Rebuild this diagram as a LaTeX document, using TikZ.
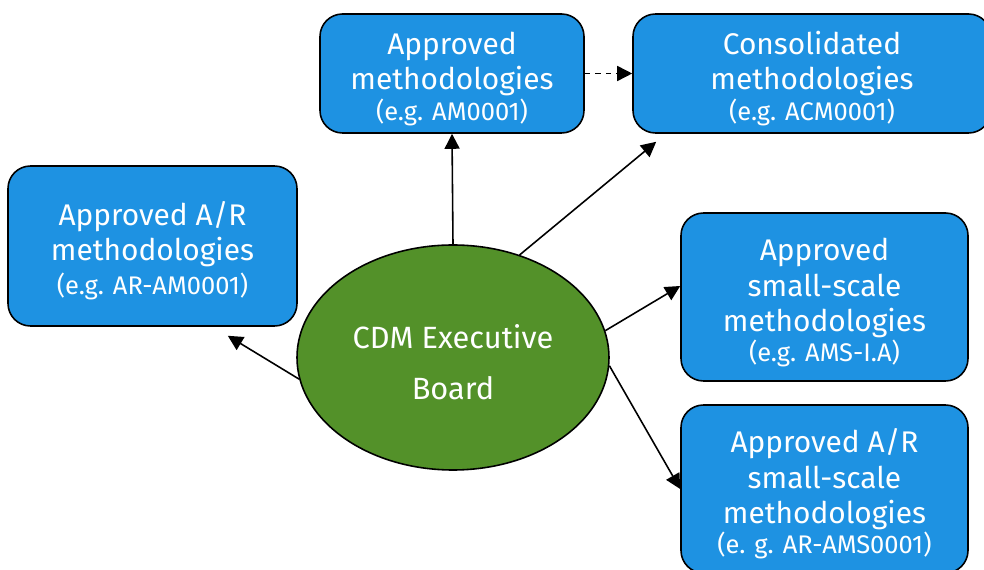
\documentclass[tikz,border=0pt]{standalone}
\usepackage{fontspec}
\setmainfont{Fira Sans}
\usepackage{tikz}
\usetikzlibrary{arrows.meta, calc, shapes.geometric}
\definecolor{boxblue}{RGB}{30, 146, 226}
\definecolor{boardgreen}{RGB}{83, 145, 41}

\newcommand{\bigtext}{\fontsize{17}{20}\selectfont}
\newcommand{\smalltext}{\fontsize{14.5}{18}\selectfont}
\newcommand{\topstrut}{\rule{0pt}{19pt}}

\tikzset{
  methbox/.style={draw=black, line width=0.9pt, fill=boxblue, rounded corners=0.45cm,
    text=white, align=center, inner sep=0pt, font=\bigtext},
  link/.style={line width=0.9pt, -{Triangle[length=0.3cm, width=0.3cm]}}
}

\begin{document}
\begin{tikzpicture}
  \useasboundingbox (0, 0) rectangle (19.68, 11.4);

  % the board in the middle
  \node[ellipse, draw=black, line width=0.9pt, fill=boardgreen, text=white,
        minimum width=6.24cm, minimum height=4.5cm, inner sep=0pt, align=center,
        font=\fontsize{17.5}{20}\selectfont] (board) at (9.06, 4.25)
    {\topstrut CDM Executive\\[8.5pt]Board};

  % methodology boxes
  \node[methbox, minimum width=5.28cm, minimum height=2.38cm] (apm) at (9.04, 9.93)
    {\topstrut Approved\\methodologies\\[-2pt]{\smalltext (e.g. AM0001)}};
  \node[methbox, minimum width=7.16cm, minimum height=2.38cm] (cons) at (16.24, 9.93)
    {\topstrut Consolidated\\methodologies\\[-2pt]{\smalltext (e.g. ACM0001)}};
  \node[methbox, minimum width=5.78cm, minimum height=3.2cm] (ar) at (3.05, 6.48)
    {\topstrut Approved A/R\\methodologies\\[-1pt]{\smalltext (e.g. AR-AM0001)}};
  \node[methbox, minimum width=5.74cm, minimum height=3.36cm] (ss) at (16.49, 5.46)
    {\topstrut Approved\\small-scale\\methodologies\\[-3pt]{\smalltext (e.g. AMS-I.A)}};
  \node[methbox, minimum width=5.74cm, minimum height=3.36cm] (arss) at (16.49, 1.62)
    {\topstrut Approved A/R\\small-scale\\methodologies\\[-3pt]{\smalltext (e. g. AR-AMS0001)}};

  % free ends that stop short of the boxes
  \coordinate (consin) at ($(cons.south west) + (0.48, -0.16)$);
  \coordinate (arin)   at ($(ar.south east) + (-1.4, -0.18)$);
  \coordinate (ssin)   at ($(ss.west) + (0, 0.22)$);

  \draw[link] (board.north) -- (apm.south);
  \draw[link] (board.57) -- (consin);
  \draw[link] (board.10) -- (ssin);
  \draw[link] (board.-3) -- (arss.west);
  \draw[link] (board.188) -- (arin);
  \draw[link, dash pattern=on 3pt off 3pt] (apm.east) -- (cons.west);
\end{tikzpicture}
\end{document}
